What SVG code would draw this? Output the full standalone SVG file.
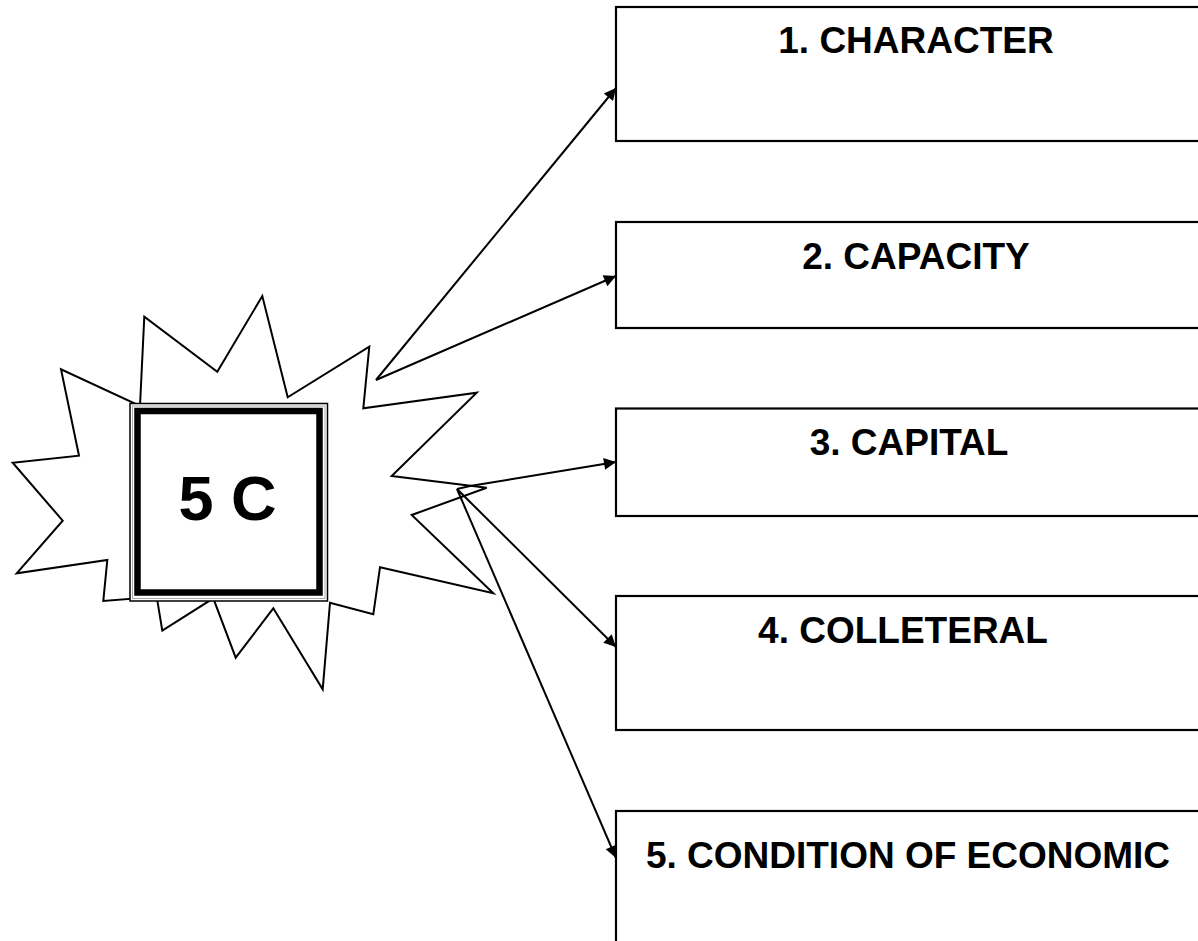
<svg xmlns="http://www.w3.org/2000/svg" width="1198" height="941" viewBox="0 0 1198 941">
<defs>
<style>
.box{fill:#fff;stroke:#000;stroke-width:2.2}
.lbl{font-family:"Liberation Sans",Arial,sans-serif;font-weight:bold;font-size:37px;fill:#000;text-anchor:middle}
.con{fill:none;stroke:#000;stroke-width:2}
</style>
<marker id="ah" viewBox="0 0 10 10" refX="10" refY="5" markerWidth="8" markerHeight="6" markerUnits="strokeWidth" orient="auto">
<path d="M0,0 L10,5 L0,10 z" fill="#000"/>
</marker>
</defs>
<rect width="1198" height="941" fill="#fff"/>
<g id="burst">
<polygon points="140,406 144.3,316.7 217.3,371.7 262.3,296 287.7,397.3 369.3,346.7 363.3,408.3 476.7,392.7 391.7,476 486.7,487.7 411.7,515 493.3,593.3 380,567.3 373.3,614.3 330,602.7 322.7,689.3 273.3,608.3 235.7,657.7 213.3,598.3 162.3,630.7 156.7,596.7 103.3,601 107.3,560 16.7,573.3 62.7,520.7 12.7,462.7 79,455.7 61,369.3" fill="#fff" stroke="#000" stroke-width="2" stroke-linejoin="miter"/>
</g>
<g id="center">
<rect x="130" y="403.5" width="197.5" height="197.5" fill="#fff" stroke="#000" stroke-width="1.5"/>
<rect x="132.5" y="406" width="192.5" height="192.5" fill="none" stroke="#aaa" stroke-width="1"/>
<rect x="137.5" y="411" width="182" height="181.5" fill="#fff" stroke="#000" stroke-width="6.5"/>
<text x="227.5" y="520" font-family="Liberation Sans,Arial,sans-serif" font-weight="bold" font-size="63" text-anchor="middle">5 C</text>
</g>
<g id="connectors">
<path class="con" d="M376,380 L616,88" marker-end="url(#ah)"/>
<path class="con" d="M376,380 L616,276" marker-end="url(#ah)"/>
<path class="con" d="M470,486 L616,462" marker-end="url(#ah)"/>
<path class="con" d="M457,489 L616,647" marker-end="url(#ah)"/>
<path class="con" d="M457,489 L616,858" marker-end="url(#ah)"/>
<path class="con" d="M457,489 L470,486"/>
</g>
<g id="n1">
<rect class="box" x="616" y="7" width="598" height="134"/>
<text class="lbl" x="916" y="53">1. CHARACTER</text>
</g>
<g id="n2">
<rect class="box" x="616" y="222" width="598" height="106"/>
<text class="lbl" x="916" y="269">2. CAPACITY</text>
</g>
<g id="n3">
<rect class="box" x="616" y="408.5" width="598" height="107.5"/>
<text class="lbl" x="909" y="455">3. CAPITAL</text>
</g>
<g id="n4">
<rect class="box" x="616" y="596" width="598" height="134"/>
<text class="lbl" x="903" y="643">4. COLLETERAL</text>
</g>
<g id="n5">
<rect class="box" x="616" y="811" width="598" height="200"/>
<text class="lbl" x="908" y="868">5. CONDITION OF ECONOMIC</text>
</g>
</svg>
